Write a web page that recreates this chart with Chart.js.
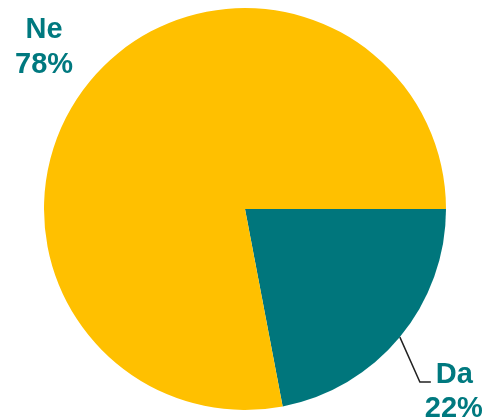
<!DOCTYPE html>
<html>
<head>
<meta charset="utf-8">
<script src="https://cdn.jsdelivr.net/npm/chart.js@4/dist/chart.umd.min.js"></script>
<style>
  html, body { margin: 0; padding: 0; background: #ffffff; }
  #wrap { width: 485px; height: 419px; position: relative; }
</style>
</head>
<body>
<div id="wrap"><canvas id="c" width="485" height="419"></canvas></div>
<script>
// Answer shares (percent)
const categories = ['Da', 'Ne'];
const shares = [22, 78];
const sliceColors = ['#00767C', '#FFC000'];
const labelColor = '#00797F';

// Draws the "name / percent" labels next to each slice; Da gets a leader line.
const sliceLabels = {
  id: 'sliceLabels',
  afterDatasetsDraw(chart) {
    const ctx = chart.ctx;
    const meta = chart.getDatasetMeta(0);
    ctx.save();
    ctx.font = 'bold 29px "Liberation Sans", Arial, sans-serif';
    ctx.fillStyle = labelColor;
    ctx.textBaseline = 'alphabetic';
    meta.data.forEach((arc, i) => {
      const { x, y, startAngle, endAngle, outerRadius } = arc.getProps(['x', 'y', 'startAngle', 'endAngle', 'outerRadius'], true);
      const mid = (startAngle + endAngle) / 2;
      const ex = x + Math.cos(mid) * outerRadius;
      const ey = y + Math.sin(mid) * outerRadius;
      const name = categories[i];
      const pct = shares[i] + '%';
      if (name === 'Da') {
        // leader line: from the rim outward, then a short horizontal run
        const kx = ex + 20, ky = ey + 45;
        ctx.strokeStyle = '#222222';
        ctx.lineWidth = 1.5;
        ctx.beginPath();
        ctx.moveTo(ex, ey);
        ctx.lineTo(kx, ky);
        ctx.lineTo(kx + 11, ky);
        ctx.stroke();
        ctx.textAlign = 'left';
        ctx.fillText(name, kx + 16, ky + 1);
        ctx.textAlign = 'center';
        ctx.fillText(pct, kx + 34, ky + 35);
      } else {
        ctx.textAlign = 'center';
        ctx.fillText(name, ex - 46, ey - 43);
        ctx.fillText(pct, ex - 46, ey - 8);
      }
    });
    ctx.restore();
  }
};

new Chart(document.getElementById('c'), {
  type: 'pie',
  data: {
    labels: categories,
    datasets: [{
      data: shares,
      backgroundColor: sliceColors,
      borderWidth: 0
    }]
  },
  options: {
    responsive: false,
    animation: false,
    rotation: 90,
    layout: { padding: { left: 44, right: 39, top: 8, bottom: 9 } },
    plugins: {
      legend: { display: false },
      tooltip: { enabled: false }
    }
  },
  plugins: [sliceLabels]
});
</script>
</body>
</html>
